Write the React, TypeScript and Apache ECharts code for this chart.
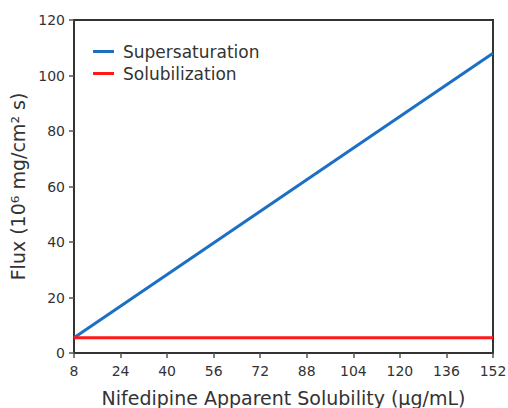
import React, { useEffect, useRef } from "react";
import * as echarts from "echarts";

const xTicks = [8, 24, 40, 56, 72, 88, 104, 120, 136, 152];
const superX = [8, 152];
const superY = [5.5, 108];
const solubX = [8, 152];
const solubY = [5.5, 5.5];
const seriesNames = ["Supersaturation", "Solubilization"];

export default function App() {
  const ref = useRef<HTMLDivElement>(null);
  useEffect(() => {
    if (!ref.current) return;
    const chart = echarts.init(ref.current, undefined, { renderer: "svg" });
    const font = "DejaVu Sans";
    chart.setOption({
      animation: false,
      textStyle: { fontFamily: font },
      grid: {
        left: 74, right: 15, top: 20, bottom: 55,
        outerBoundsMode: "none",
        containLabel: false,
        show: true, borderColor: "#333", borderWidth: 2, backgroundColor: "transparent",
      },
      legend: {
        orient: "vertical",
        left: 88, top: 38,
        itemWidth: 21, itemHeight: 3, itemGap: 5,
        icon: "rect",
        textStyle: { fontSize: 17, color: "#333", fontFamily: font, padding: [0, 0, 0, 4] },
        data: seriesNames,
      },
      xAxis: {
        type: "value",
        min: xTicks[0], max: xTicks[xTicks.length - 1], interval: 16,
        name: "Nifedipine Apparent Solubility (μg/mL)",
        nameLocation: "middle", nameGap: 35,
        nameTextStyle: { fontSize: 19, color: "#333", fontFamily: font },
        axisLine: { show: true, lineStyle: { color: "#333", width: 2 } },
        axisTick: { show: true, length: 5, lineStyle: { color: "#555", width: 1.5 } },
        axisLabel: { fontSize: 14, color: "#333", margin: 11, fontFamily: font },
        splitLine: { show: false },
      },
      yAxis: {
        type: "value",
        min: 0, max: 120, interval: 20,
        name: "Flux (10⁶ mg/cm² s)",
        nameLocation: "middle", nameGap: 41,
        nameTextStyle: { fontSize: 19, color: "#333", fontFamily: font },
        axisLine: { show: true, lineStyle: { color: "#333", width: 2 } },
        axisTick: { show: true, length: 5, lineStyle: { color: "#555", width: 1.5 } },
        axisLabel: { fontSize: 14, color: "#333", margin: 9, fontFamily: font },
        splitLine: { show: false },
      },
      series: [
        {
          name: seriesNames[0], type: "line", showSymbol: false,
          data: superX.map((x, i) => [x, superY[i]]),
          lineStyle: { color: "#1b70c4", width: 3 }, itemStyle: { color: "#1b70c4" },
        },
        {
          name: seriesNames[1], type: "line", showSymbol: false,
          data: solubX.map((x, i) => [x, solubY[i]]),
          lineStyle: { color: "#ff1a1a", width: 3 }, itemStyle: { color: "#ff1a1a" },
        },
      ],
    });
    return () => chart.dispose();
  }, []);
  return (
    <div
      ref={ref}
      style={{ position: "fixed", left: 0, top: 0, width: 508, height: 408, background: "#fff" }}
    />
  );
}
